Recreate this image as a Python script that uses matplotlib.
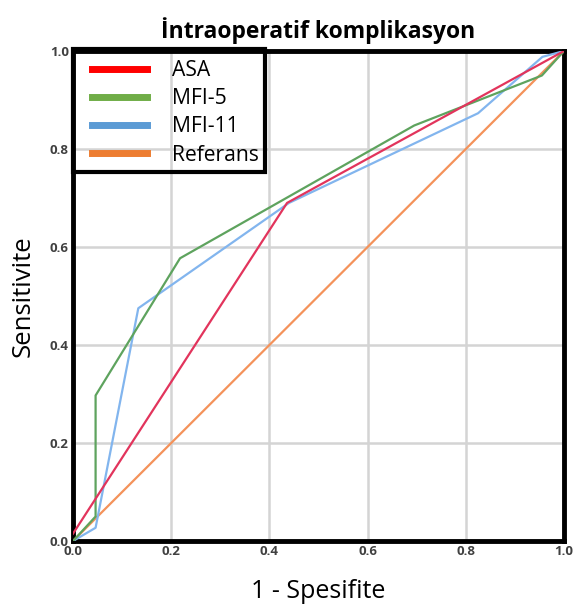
import matplotlib
matplotlib.use("Agg")
import matplotlib.pyplot as plt
from matplotlib.lines import Line2D
from matplotlib.patches import Rectangle

asa_x = [0.0, 0.436, 1.0]
asa_y = [0.015, 0.69, 1.0]
mfi5_x = [0.0, 0.046, 0.046, 0.218, 0.695, 0.955, 1.0]
mfi5_y = [0.0, 0.05, 0.297, 0.577, 0.848, 0.95, 1.0]
mfi11_x = [0.0, 0.046, 0.133, 0.44, 0.825, 0.956, 1.0]
mfi11_y = [0.0, 0.027, 0.475, 0.69, 0.873, 0.988, 1.0]
ref_x = [0.0, 1.0]
ref_y = [0.0, 1.0]
labels = ["ASA", "MFI-5", "MFI-11", "Referans"]
ticks = [0.0, 0.2, 0.4, 0.6, 0.8, 1.0]

plt.rcParams['font.family'] = ['Open Sans', 'DejaVu Sans']

W, H = 574, 608
fig = plt.figure(figsize=(W/100, H/100), dpi=100)
ax = fig.add_axes([73/W, 67/H, 491/W, 490/H])

ax.plot(ref_x, ref_y, color='#f4925a', lw=1.6, zorder=3)
ax.plot(mfi11_x, mfi11_y, color='#82b5ee', lw=1.6, zorder=3)
ax.plot(mfi5_x, mfi5_y, color='#5ea35e', lw=1.6, zorder=4)
ax.plot(asa_x, asa_y, color='#e2345c', lw=1.6, zorder=5)

ax.set_xlim(0, 1)
ax.set_ylim(0, 1)
ax.set_xticks(ticks)
ax.set_yticks(ticks)
ax.set_xticklabels([f"{t:.1f}" for t in ticks])
ax.set_yticklabels([f"{t:.1f}" for t in ticks])
ax.tick_params(length=0, labelsize=9.5, colors='#404040', pad=3)
for lab in ax.get_xticklabels() + ax.get_yticklabels():
    lab.set_fontweight('bold')
ax.grid(True, color='#d4d4d4', lw=1.8, zorder=0)
ax.set_axisbelow(True)
for s in ax.spines.values():
    s.set_linewidth(3.5)
    s.set_color('black')

ax.set_xlabel("1 - Spesifite", fontsize=18, labelpad=15)
ax.set_ylabel("Sensitivite", fontsize=18.5, labelpad=10)
ax.set_title("İntraoperatif komplikasyon", fontsize=16.5, fontweight='bold', pad=9)

handles = [Line2D([0], [0], color=c, lw=5) for c in ['#ff0000', '#70ad47', '#5b9bd5', '#ed7d31']]
leg = fig.legend(handles, labels, loc='upper left',
                 bbox_to_anchor=(92/W, 1 - 60/H), fontsize=15.2,
                 frameon=False, handlelength=2.6,
                 handletextpad=1.18, labelspacing=0.34, borderpad=0,
                 borderaxespad=0)
fig.add_artist(Rectangle((73/W, 1 - 172/H), (265-73)/W, (172-49)/H,
                         transform=fig.transFigure, fill=False,
                         edgecolor='black', lw=3, zorder=10))

fig.savefig("out.png", dpi=100)
